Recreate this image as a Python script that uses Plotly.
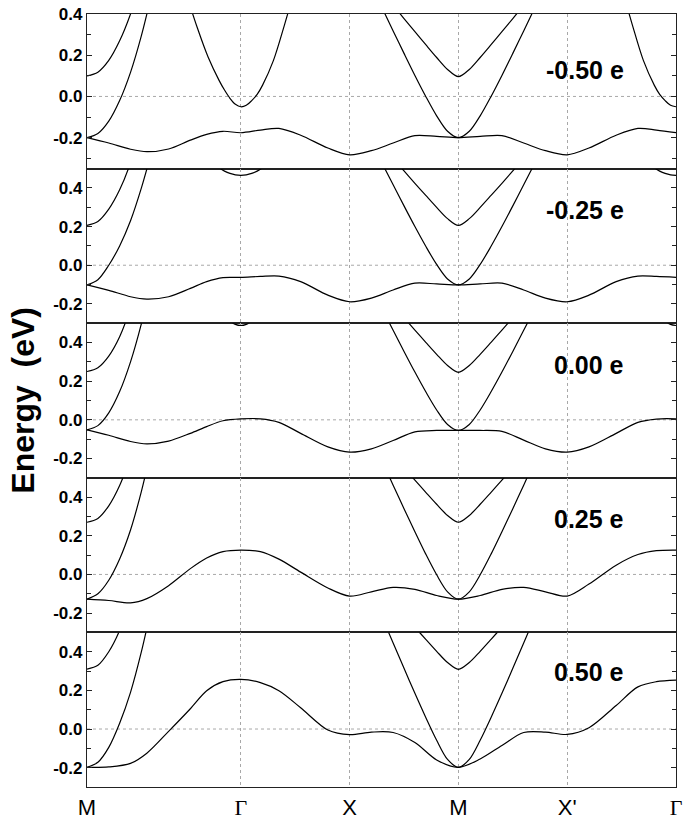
import plotly.graph_objects as go
from plotly.subplots import make_subplots

# ---------------- data ----------------
K_TICKS = [0.0, 1.414, 2.414, 3.414, 4.414, 5.414]
GAMMA = "<span style=\"font-family:'Liberation Serif', 'DejaVu Serif', serif\">Γ</span>"
K_LABELS = ["M", GAMMA, "X", "M", "X'", GAMMA]
CHARGES = ["-0.50 e", "-0.25 e", "0.00 e", "0.25 e", "0.50 e"]

# lowest band, shared k grid
K_LOW = [0.0, 0.2, 0.4, 0.55, 0.75, 0.95, 1.1, 1.25, 1.414, 1.594, 1.764, 1.964, 2.214, 2.414,
         2.614, 2.814, 3.014, 3.214, 3.414, 3.614, 3.814, 4.014, 4.214, 4.414,
         4.614, 4.864, 5.064, 5.234, 5.414]
LOW_M050 = [-0.200, -0.226, -0.256, -0.268, -0.255, -0.212, -0.184, -0.169, -0.176, -0.163, -0.155, -0.188, -0.250, -0.283,
            -0.263, -0.226, -0.190, -0.194, -0.200, -0.194, -0.190, -0.226, -0.263, -0.283,
            -0.250, -0.188, -0.155, -0.163, -0.176]
LOW_M025 = [-0.102, -0.130, -0.163, -0.175, -0.163, -0.120, -0.085, -0.064, -0.063, -0.058, -0.056, -0.085, -0.155, -0.189,
            -0.170, -0.128, -0.093, -0.097, -0.102, -0.097, -0.093, -0.128, -0.170, -0.189,
            -0.155, -0.085, -0.056, -0.058, -0.063]
LOW_000 = [-0.052, -0.080, -0.112, -0.124, -0.110, -0.070, -0.035, -0.005, 0.005, 0.005, -0.013, -0.070, -0.140, -0.167,
           -0.150, -0.107, -0.062, -0.055, -0.055, -0.055, -0.060, -0.105, -0.150, -0.167,
           -0.140, -0.070, -0.013, 0.004, 0.005]
LOW_P025 = [-0.128, -0.135, -0.147, -0.125, -0.058, 0.030, 0.085, 0.118, 0.126, 0.118, 0.079, 0.012, -0.070, -0.112,
            -0.090, -0.067, -0.077, -0.109, -0.128, -0.109, -0.077, -0.067, -0.090, -0.112,
            -0.050, 0.048, 0.103, 0.123, 0.126]
LOW_P050 = [-0.198, -0.196, -0.178, -0.125, -0.012, 0.105, 0.198, 0.245, 0.257, 0.240, 0.198, 0.110, -0.005, -0.029,
            -0.016, -0.018, -0.070, -0.160, -0.198, -0.155, -0.085, -0.018, -0.016, -0.028,
            0.007, 0.122, 0.218, 0.245, 0.253]

# two bands leaving the M point at the left edge
K_M_LEFT = [0.0, 0.1, 0.2, 0.3, 0.4, 0.5, 0.6]
B_LEFT_M050 = [-0.200, -0.180, -0.120, -0.020, 0.117, 0.295, 0.510]
B_LEFT_M025 = [-0.102, -0.075, 0.000, 0.100, 0.230, 0.400, 0.600]
B_LEFT_000 = [-0.052, -0.030, 0.036, 0.146, 0.300, 0.498, 0.740]
B_LEFT_P025 = [-0.128, -0.100, -0.030, 0.080, 0.230, 0.430, 0.670]
B_LEFT_P050 = [-0.198, -0.172, -0.095, 0.030, 0.190, 0.400, 0.650]
C_LEFT_M050 = [0.100, 0.118, 0.175, 0.270, 0.400, 0.570, 0.780]
C_LEFT_M025 = [0.206, 0.226, 0.290, 0.390, 0.530, 0.720, 0.940]
C_LEFT_000 = [0.250, 0.270, 0.330, 0.430, 0.580, 0.780, 1.000]
C_LEFT_P025 = [0.270, 0.290, 0.355, 0.460, 0.610, 0.800, 1.030]
C_LEFT_P050 = [0.310, 0.330, 0.400, 0.510, 0.670, 0.870, 1.100]

# two bands around the central M point
K_M_MID = [2.714, 2.814, 2.914, 3.014, 3.114, 3.214, 3.314, 3.414, 3.514, 3.614, 3.714, 3.814, 3.914, 4.014, 4.114]
B_MID_M050 = [0.428, 0.318, 0.209, 0.102, 0.000, -0.094, -0.169, -0.200, -0.169, -0.094, 0.000, 0.102, 0.209, 0.318, 0.428]
B_MID_M025 = [0.526, 0.416, 0.307, 0.200, 0.098, 0.004, -0.071, -0.102, -0.071, 0.004, 0.098, 0.200, 0.307, 0.416, 0.526]
B_MID_000 = [0.573, 0.463, 0.354, 0.247, 0.145, 0.051, -0.024, -0.055, -0.024, 0.051, 0.145, 0.247, 0.354, 0.463, 0.573]
B_MID_P025 = [0.585, 0.462, 0.340, 0.221, 0.105, -0.002, -0.090, -0.128, -0.090, -0.002, 0.105, 0.221, 0.340, 0.462, 0.585]
B_MID_P050 = [0.577, 0.445, 0.314, 0.185, 0.060, -0.058, -0.157, -0.198, -0.157, -0.058, 0.060, 0.185, 0.314, 0.445, 0.577]
C_MID_M050 = [0.505, 0.442, 0.378, 0.314, 0.251, 0.189, 0.131, 0.096, 0.131, 0.189, 0.251, 0.314, 0.378, 0.442, 0.505]
C_MID_M025 = [0.615, 0.552, 0.488, 0.424, 0.361, 0.299, 0.241, 0.206, 0.241, 0.299, 0.361, 0.424, 0.488, 0.552, 0.615]
C_MID_000 = [0.655, 0.592, 0.528, 0.464, 0.401, 0.339, 0.281, 0.246, 0.281, 0.339, 0.401, 0.464, 0.528, 0.592, 0.655]
C_MID_P025 = [0.679, 0.616, 0.552, 0.488, 0.425, 0.363, 0.305, 0.270, 0.305, 0.363, 0.425, 0.488, 0.552, 0.616, 0.679]
C_MID_P050 = [0.718, 0.655, 0.591, 0.527, 0.464, 0.402, 0.344, 0.309, 0.344, 0.402, 0.464, 0.527, 0.591, 0.655, 0.718]

# band around Gamma (middle) and at the right end
K_G_MID = [0.914, 1.014, 1.114, 1.214, 1.264, 1.314, 1.364, 1.414, 1.464, 1.514, 1.564, 1.614, 1.714, 1.814, 1.914]
G_MID_M050 = [0.495, 0.333, 0.190, 0.078, 0.031, -0.009, -0.038, -0.050, -0.043, -0.020, 0.010, 0.055, 0.175, 0.345, 0.530]
G_MID_M025 = [0.720, 0.620, 0.550, 0.504, 0.487, 0.475, 0.4675, 0.465, 0.4675, 0.475, 0.487, 0.504, 0.550, 0.620, 0.720]
G_MID_000 = [0.900, 0.780, 0.680, 0.580, 0.540, 0.512, 0.494, 0.488, 0.494, 0.512, 0.540, 0.580, 0.680, 0.780, 0.900]
K_G_END = [4.914, 5.014, 5.114, 5.214, 5.264, 5.314, 5.364, 5.414]
G_END_M050 = [0.530, 0.345, 0.175, 0.055, 0.010, -0.020, -0.043, -0.050]
G_END_M025 = [0.720, 0.620, 0.550, 0.504, 0.487, 0.475, 0.4675, 0.465]
G_END_000 = [0.900, 0.780, 0.680, 0.580, 0.540, 0.512, 0.494, 0.488]

PANELS = [
    dict(low=LOW_M050, bl=B_LEFT_M050, cl=C_LEFT_M050, bm=B_MID_M050, cm=C_MID_M050, gm=G_MID_M050, ge=G_END_M050),
    dict(low=LOW_M025, bl=B_LEFT_M025, cl=C_LEFT_M025, bm=B_MID_M025, cm=C_MID_M025, gm=G_MID_M025, ge=G_END_M025),
    dict(low=LOW_000, bl=B_LEFT_000, cl=C_LEFT_000, bm=B_MID_000, cm=C_MID_000, gm=G_MID_000, ge=G_END_000),
    dict(low=LOW_P025, bl=B_LEFT_P025, cl=C_LEFT_P025, bm=B_MID_P025, cm=C_MID_P025, gm=None, ge=None),
    dict(low=LOW_P050, bl=B_LEFT_P050, cl=C_LEFT_P050, bm=B_MID_P050, cm=C_MID_P050, gm=None, ge=None),
]
Y_RANGES = [[-0.35, 0.4], [-0.3, 0.5], [-0.3, 0.5], [-0.3, 0.5], [-0.3, 0.5]]
Y_TICKS = [-0.2, 0.0, 0.2, 0.4]
Y_TICKTEXT = ["-0.2", "0.0", "0.2", "0.4"]

# ---------------- figure ----------------
fig = make_subplots(rows=5, cols=1, shared_xaxes=True, vertical_spacing=0)

line = dict(color="black", width=1.2, shape="spline", smoothing=0.9)
for i, p in enumerate(PANELS):
    r = i + 1
    sets = [(K_LOW, p["low"]), (K_M_LEFT, p["bl"]), (K_M_LEFT, p["cl"]),
            (K_M_MID, p["bm"]), (K_M_MID, p["cm"])]
    if p["gm"] is not None:
        sets += [(K_G_MID, p["gm"]), (K_G_END, p["ge"])]
    for kx, ey in sets:
        fig.add_trace(go.Scatter(x=kx, y=ey, mode="lines", line=line,
                                 showlegend=False, hoverinfo="skip"), row=r, col=1)
    fig.add_hline(y=0, line=dict(color="#a8a8a8", width=1, dash="dot"),
                  layer="below", row=r, col=1)

for i in range(5):
    r = i + 1
    fig.update_xaxes(range=[0, 5.414], tickvals=K_TICKS, ticktext=K_LABELS,
                     showgrid=True, gridcolor="#a8a8a8", griddash="dot", gridwidth=1,
                     zeroline=False, ticks="", showticklabels=(r == 5), automargin=False,
                     tickfont=dict(family="Liberation Sans, Arial", size=22, color="black"),
                     showline=True, linecolor="#222", linewidth=1.3, mirror=True,
                     row=r, col=1)
    fig.update_yaxes(range=Y_RANGES[i], tickvals=Y_TICKS, ticktext=Y_TICKTEXT,
                     showgrid=False, zeroline=False, automargin=False,
                     ticks="inside", ticklen=5, tickcolor="#222",
                     minor=dict(dtick=0.1, tick0=0, ticks="inside", ticklen=4, tickcolor="#222", showgrid=False),
                     tickfont=dict(family="Liberation Sans, Arial", size=17, color="black", weight="bold"),
                     showline=True, linecolor="#222", linewidth=1.3, mirror="ticks",
                     row=r, col=1)

label_y = [0.9276, 0.7464, 0.5459, 0.3467, 0.1488]
for txt, yy in zip(CHARGES, label_y):
    fig.add_annotation(text=txt, x=0.915, y=yy, xref="paper", yref="paper",
                       xanchor="right", yanchor="middle", showarrow=False,
                       font=dict(family="Liberation Sans, Arial", size=25, color="black", weight="bold"))

fig.add_annotation(text="Energy  (eV)", x=-0.110, y=0.5, xref="paper", yref="paper",
                   xanchor="center", yanchor="middle", textangle=-90, showarrow=False,
                   font=dict(family="Liberation Sans, Arial", size=32, color="black", weight="bold"))

fig.update_layout(width=685, height=822, margin=dict(l=87, r=9, t=14, b=35),
                  plot_bgcolor="white", paper_bgcolor="white", showlegend=False)

fig.write_html("out.html", config={"displayModeBar": False},
               post_script="document.body.style.margin='0px';document.body.style.overflow='hidden';")
